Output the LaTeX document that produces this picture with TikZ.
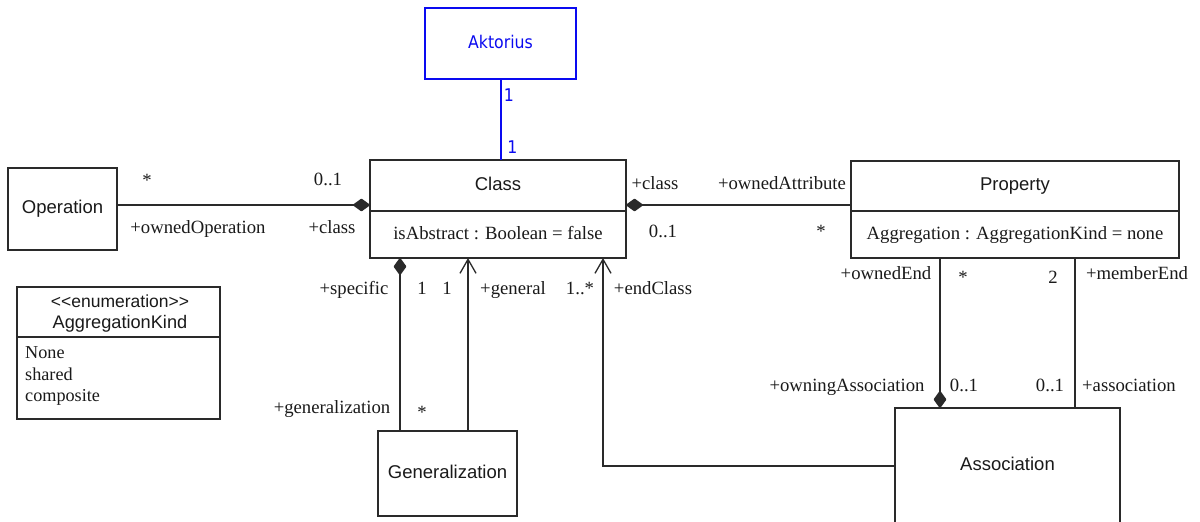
\documentclass[tikz,border=0pt]{standalone}
\usepackage{fontspec}
\setmainfont{Liberation Serif}
\setsansfont{Liberation Sans}
\newfontfamily\aktfont[FakeStretch=0.9]{DejaVu Sans}
\usetikzlibrary{arrows.meta}

\definecolor{ink}{HTML}{1A1A1A}
\definecolor{edge}{HTML}{2A2A2A}
\definecolor{aktblue}{HTML}{0A0AF0}

\tikzset{
  box/.style={draw=edge, line width=1.4pt, inner sep=0pt, outer sep=0pt,
    text=ink, text height=13pt, text depth=4pt,
    font=\sffamily\fontsize{18.5}{22}\selectfont},
  attrbox/.style={box, font=\fontsize{18.7}{22}\selectfont},
  conn/.style={draw=edge, line width=1.3pt},
  comp/.style={conn, {Diamond[length=18pt,width=13pt,round]}-},
  nav/.style={conn, -{Straight Barb[length=14pt,width=16pt]}},
  role/.style={text=ink, inner sep=0pt, anchor=base,
    font=\fontsize{18.7}{22}\selectfont},
  enumtxt/.style={text=ink, inner sep=0pt, anchor=base,
    font=\sffamily\fontsize{17.5}{20}\selectfont},
  lit/.style={text=ink, inner sep=0pt, anchor=base west,
    font=\fontsize{18.2}{22}\selectfont},
  aktbox/.style={draw=aktblue, line width=1.6pt, inner sep=0pt, outer sep=0pt,
    text=aktblue, text height=13pt, text depth=4pt,
    font=\aktfont\fontsize{17.5}{20}\selectfont},
  aktline/.style={draw=aktblue, line width=2pt},
  aktmult/.style={text=aktblue, inner sep=0pt, anchor=base,
    font=\aktfont\fontsize{17.5}{20}\selectfont},
}

\begin{document}
\begin{tikzpicture}[x=1pt,y=-1pt]
  \path[fill=white, use as bounding box] (0,0) rectangle (1200,522);

  % classes
  \node[aktbox, minimum width=151pt, minimum height=71pt] (akt) at (500.5,43.5) {Aktorius};
  \node[box, minimum width=109pt, minimum height=82pt] (op) at (62.5,209) {Operation};
  \node[box, minimum width=256pt, minimum height=51pt] (clshead) at (498,185.5) {Class};
  \node[attrbox, minimum width=256pt, minimum height=47pt] (clsattr) at (498,234.5)
    {isAbstract : Boolean = false};
  \node[box, minimum width=328pt, minimum height=50pt] (prophead) at (1015,186) {Property};
  \node[attrbox, minimum width=328pt, minimum height=47pt] (propattr) at (1015,234.5)
    {Aggregation : AggregationKind = none};
  \node[box, minimum width=139pt, minimum height=85pt] (gen) at (447.5,473.5) {Generalization};
  \node[box, minimum width=225pt, minimum height=116pt] (assoc) at (1007.5,466) {Association};

  % enumeration
  \node[box, minimum width=203pt, minimum height=50pt] (enumhead) at (118.5,312) {};
  \node[box, minimum width=203pt, minimum height=82pt] (enumbody) at (118.5,378) {};
  \node[enumtxt] (stereo) at (120,307) {<{}<enumeration>{}>};
  \node[enumtxt, font=\sffamily\fontsize{18.2}{20}\selectfont] (enumname) at (120,328) {AggregationKind};
  \node[lit] (litnone) at (25,358) {None};
  \node[lit] (litshared) at (25,380) {shared};
  \node[lit] (litcomp) at (25,401) {composite};

  % Aktorius -- Class
  \draw[aktline] (akt.south) -- (akt.south |- clshead.north);
  \node[aktmult] (akt1) at (509,101) {1};
  \node[aktmult] (akt2) at (512.5,153) {1};

  % Class owns operations
  \draw[comp] ([yshift=-19.5pt]clshead.west) -- ([yshift=-19.5pt]clshead.west -| op.east);
  \node[role] (opstar) at (147,186) {*};
  \node[role] (opmult) at (328,185) {0..1};
  \node[role] (opname) at (198,233) {+ownedOperation};
  \node[role] (opcls) at (332,233) {+class};

  % Class owns attributes
  \draw[comp] ([yshift=-19.5pt]clshead.east) -- ([yshift=-19.5pt]clshead.east -| prophead.west);
  \node[role] (atcls) at (655,189) {+class};
  \node[role] (atname) at (782,189) {+ownedAttribute};
  \node[role] (atmult) at (663,237) {0..1};
  \node[role] (atstar) at (821,237) {*};

  % Generalization
  \draw[comp] ([xshift=-47.5pt]gen.north |- clsattr.south) -- ([xshift=-47.5pt]gen.north);
  \draw[nav] ([xshift=20.5pt]gen.north) -- ([xshift=20.5pt]gen.north |- clsattr.south);
  \node[role] (spec) at (354,294) {+specific};
  \node[role] (specm) at (422,294) {1};
  \node[role] (genm) at (447,294) {1};
  \node[role] (genr) at (513,294) {+general};
  \node[role] (genz) at (332,413) {+generalization};
  \node[role] (genzm) at (422,418) {*};

  % Association end classes
  \draw[nav] (assoc.west) -| ([xshift=105pt]clsattr.south);
  \node[role] (endm) at (580,294) {1..*};
  \node[role] (endr) at (653,294) {+endClass};

  % Association owns and references properties
  \draw[comp] ([xshift=-67.5pt]assoc.north) -- ([xshift=-67.5pt]assoc.north |- propattr.south);
  \draw[conn] ([xshift=67.5pt]assoc.north) -- ([xshift=67.5pt]assoc.north |- propattr.south);
  \node[role] (oend) at (886,279) {+ownedEnd};
  \node[role] (oendm) at (963,283) {*};
  \node[role] (mendm) at (1053,283) {2};
  \node[role] (mend) at (1137,279) {+memberEnd};
  \node[role] (oasc) at (847,391) {+owningAssociation};
  \node[role] (oascm) at (964,391) {0..1};
  \node[role] (ascm) at (1050,391) {0..1};
  \node[role] (asc) at (1129,391) {+association};
\end{tikzpicture}
\end{document}
